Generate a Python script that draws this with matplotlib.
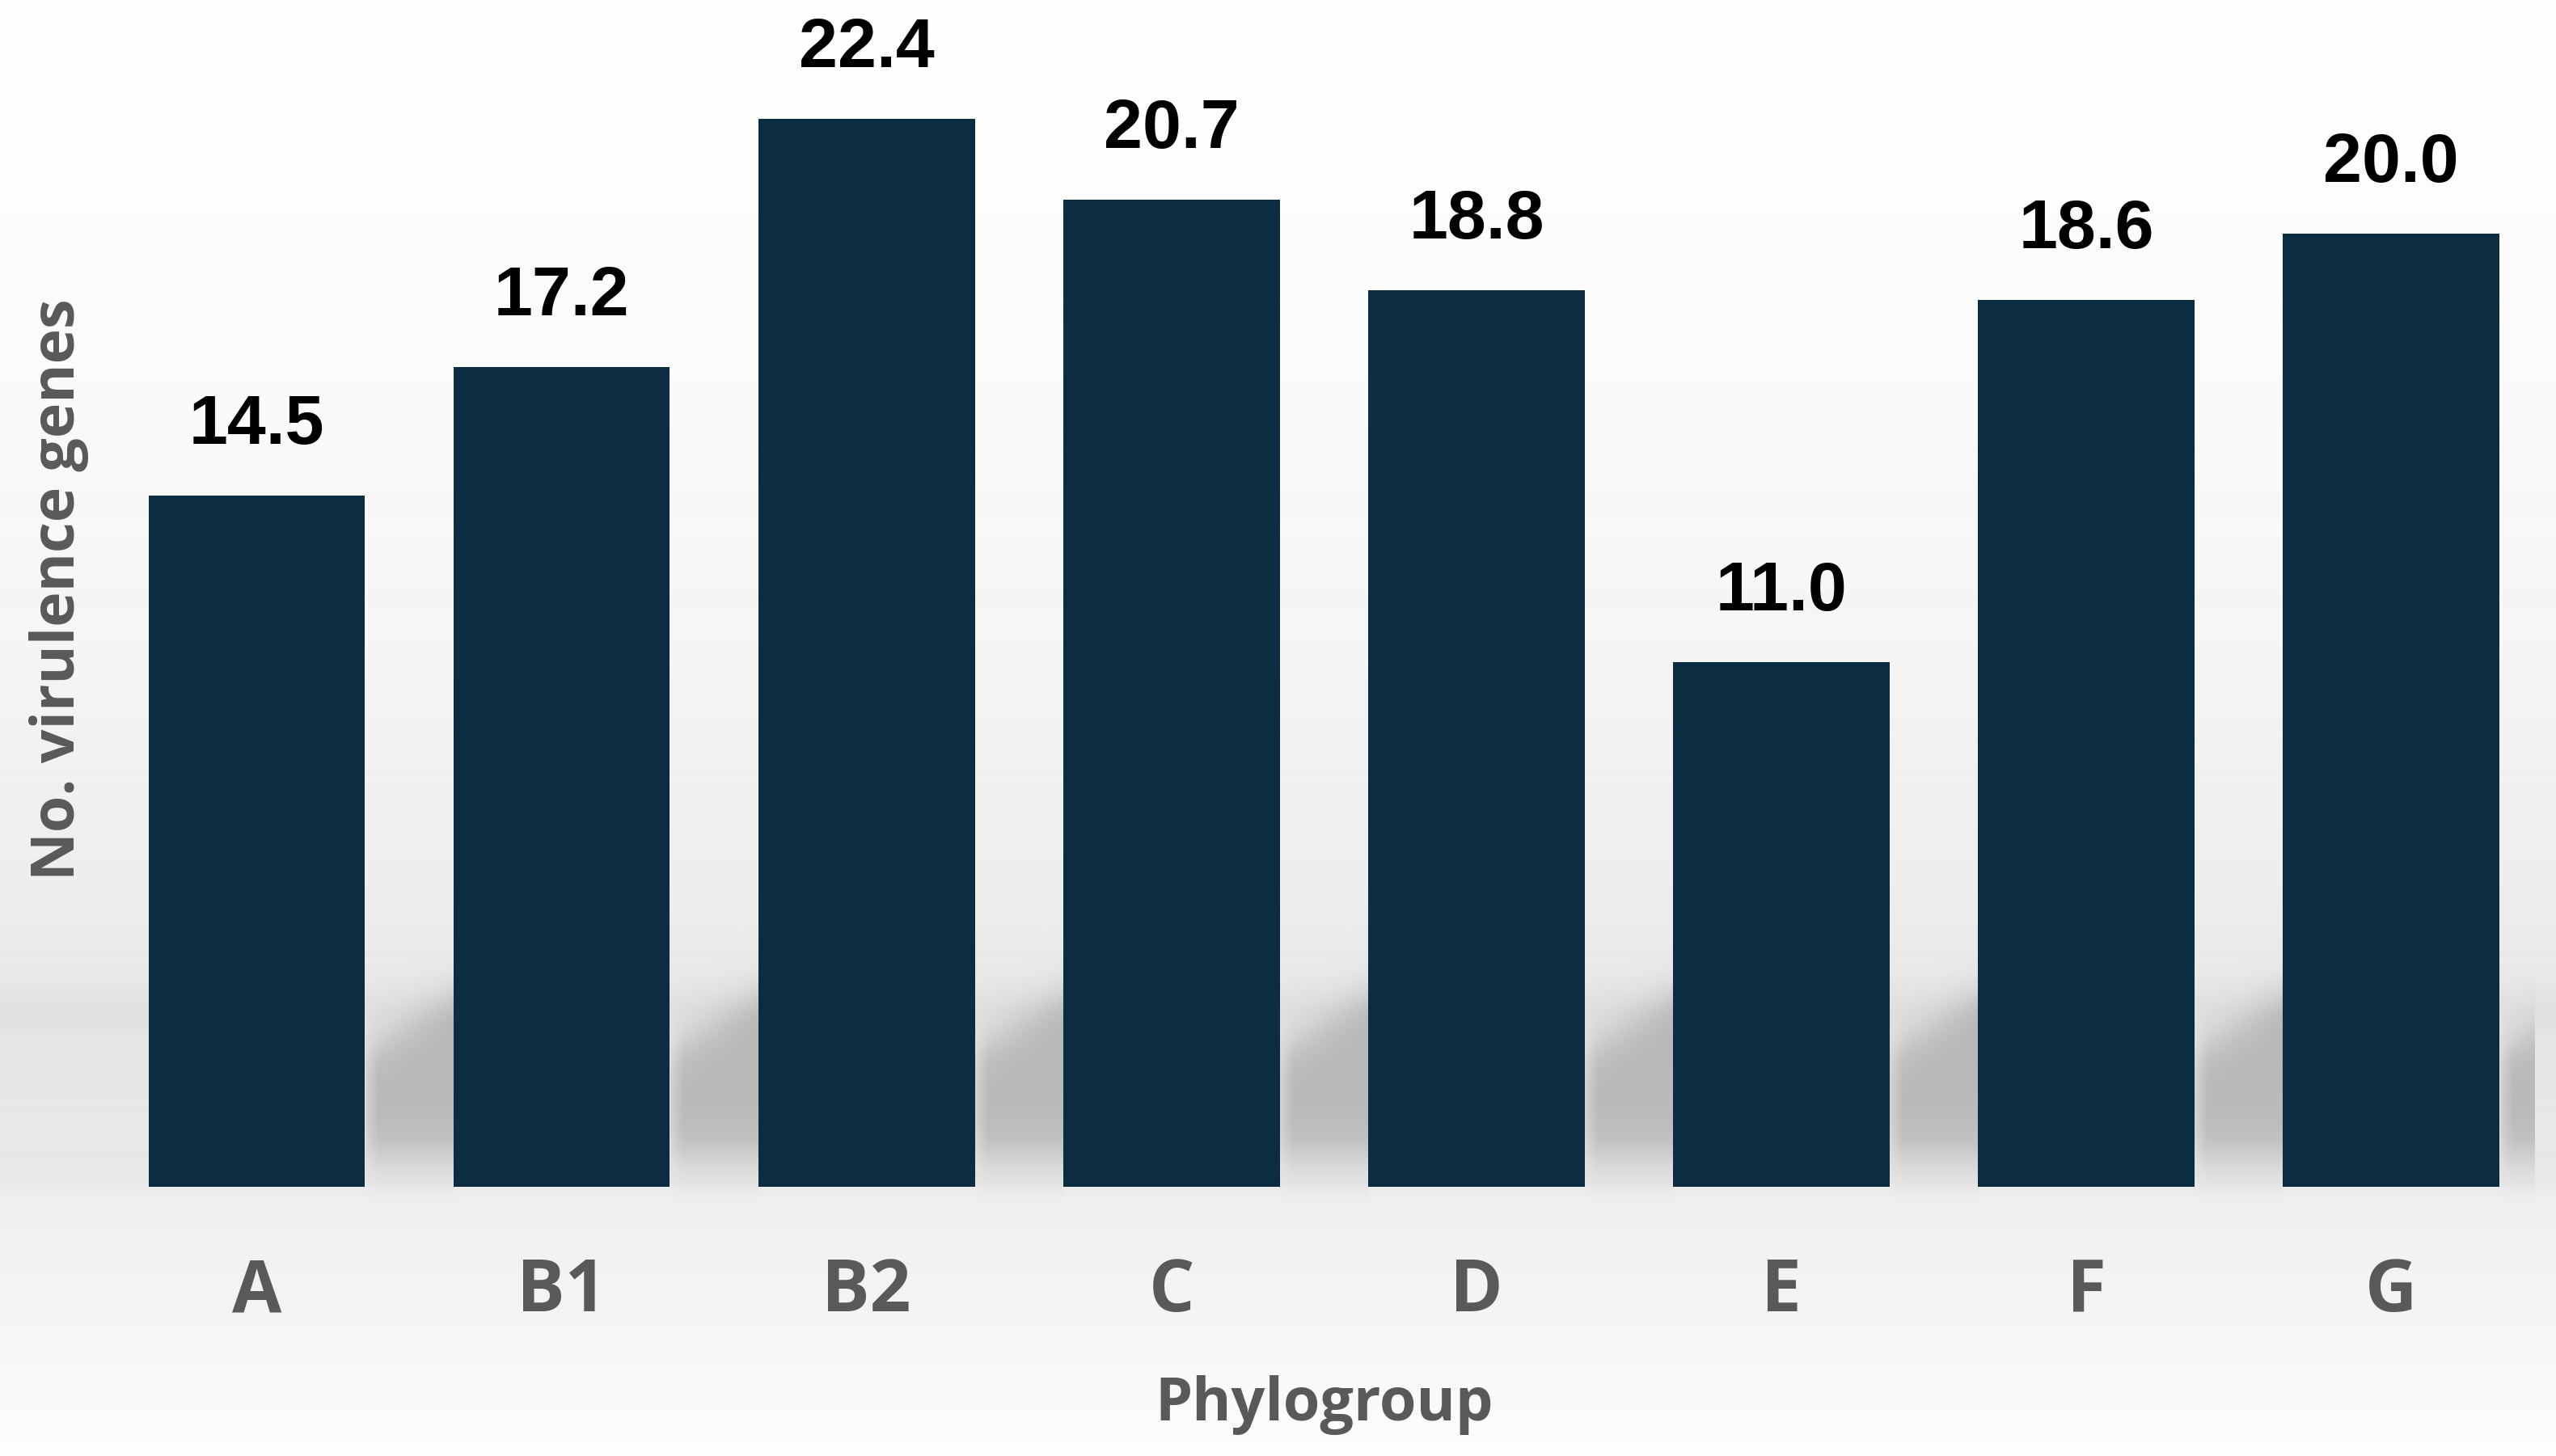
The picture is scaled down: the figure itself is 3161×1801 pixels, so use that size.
import numpy as np
import matplotlib
matplotlib.use("Agg")
import matplotlib.pyplot as plt

# mean number of virulence genes per phylogroup
phylogroups = ["A", "B1", "B2", "C", "D", "E", "F", "G"]
mean_genes = [14.5, 17.2, 22.4, 20.7, 18.8, 11.0, 18.6, 20.0]

BAR_COLOR = "#0c2d41"
AXIS_GREY = "#595959"

W, H, DPI = 3161, 1801, 100

# layout (pixels)
base_row = 1468       # row of the bar baseline
top_row = 147         # row of the tallest bar's top
first_col = 317.5     # centre of first bar
pitch = 377.1         # distance between bar centres
upp = max(mean_genes) / (base_row - top_row)   # data units per pixel

fig = plt.figure(figsize=(W / DPI, H / DPI), dpi=DPI)
bg = fig.add_axes([0, 0, 1, 1], zorder=0)
bg.set_axis_off()
ax = fig.add_axes([0, (H - base_row) / H, 1, base_row / H], zorder=1)
ax.set_facecolor("none")

x = np.arange(len(phylogroups))
ax.set_xlim(-first_col / pitch, (W - first_col) / pitch)
ax.set_ylim(0, base_row * upp)

bars = ax.bar(x, mean_genes, width=0.71, color=BAR_COLOR, zorder=2)

# background: soft vertical grey gradient plus "floor" shadows between bars
rows = np.arange(H)[:, None].astype(float)
cols = np.arange(W)[None, :].astype(float)
prof_rows = [0, 400, 800, 1100, 1200, 1250, 1290, 1350, 1460, 1485, 1600, 1700, 1801]
prof_grey = [254, 251, 245, 237, 233, 224, 229, 231, 232, 239, 243, 248, 253]
img = np.repeat(np.interp(rows[:, 0], prof_rows, prof_grey)[:, None], W, axis=1)

edges = []
for b in bars:
    left = ax.transData.transform((b.get_x(), 0))[0]
    right = ax.transData.transform((b.get_x() + b.get_width(), 0))[0]
    edges.append((left, right))
gaps = [(edges[i][1], edges[i + 1][0]) for i in range(len(edges) - 1)]
gw = gaps[0][1] - gaps[0][0]
gaps.append((edges[-1][1], edges[-1][1] + gw))

for i, (x0, x1) in enumerate(gaps):
    u = np.clip((cols - x0) / (x1 - x0), 0, 1)
    xmax = x1 if i < len(gaps) - 1 else x0 + 0.4 * gw
    inside = (cols >= x0) & (cols <= xmax)
    ytop = 1300 - 65 * u
    s1 = 1 / (1 + np.exp(-(rows - ytop) / 16))
    s2 = 1 / (1 + np.exp((rows - 1432) / 16))
    edge = np.clip(u / 0.15, 0, 1)
    img -= 46 * s1 * s2 * (0.45 + 0.55 * edge) * inside

bg.imshow(img, cmap="gray", vmin=0, vmax=255, extent=(0, W, H, 0),
          aspect="auto", interpolation="bilinear")
bg.set_xlim(0, W)
bg.set_ylim(H, 0)

# value labels
for b, v in zip(bars, mean_genes):
    ax.annotate(f"{v:.1f}", (b.get_x() + b.get_width() / 2, v),
                xytext=(0, 46), textcoords="offset points",
                ha="center", va="baseline", fontsize=62, fontweight="bold",
                family="Liberation Sans", color="black")

ax.set_xticks(x, phylogroups, fontsize=64, fontweight="bold",
              color=AXIS_GREY, family="Open Sans")
ax.tick_params(axis="x", length=0, pad=62)
ax.set_yticks([])
for s in ax.spines.values():
    s.set_visible(False)

x0, x1 = ax.get_xlim()
ax.set_xlabel("Phylogroup", fontsize=53, fontweight="bold",
              color=AXIS_GREY, family="Open Sans")
ax.xaxis.set_label_coords((x.mean() - x0) / (x1 - x0), -0.159)
ax.set_ylabel("No. virulence genes", fontsize=53, fontweight="bold",
              color=AXIS_GREY, family="Open Sans")
ax.yaxis.set_label_coords(0.0348, 0.503)

fig.savefig("out.png", dpi=DPI)
